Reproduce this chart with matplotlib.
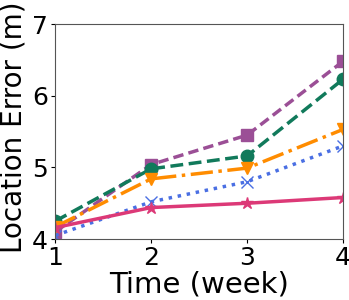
import matplotlib
matplotlib.use('Agg')
import matplotlib.pyplot as plt

# Data
weeks = [1, 2, 3, 4]
purple_sq = [4.10, 5.04, 5.45, 6.48]
green_circ = [4.25, 4.98, 5.16, 6.23]
orange_tri = [4.17, 4.84, 4.99, 5.53]
blue_x = [4.05, 4.52, 4.80, 5.30]
pink_star = [4.16, 4.44, 4.50, 4.58]

fig, ax = plt.subplots(figsize=(3.49, 3.0), dpi=100)

ax.plot(weeks, purple_sq, color='#9b4f96', linestyle=(0, (3, 1.5)), marker='s',
        markersize=8, linewidth=2.5)
ax.plot(weeks, green_circ, color='#117a5b', linestyle='--', marker='o',
        markersize=9, linewidth=2.5)
ax.plot(weeks, orange_tri, color='#ff8c00', linestyle='-.', marker='v',
        markersize=9, linewidth=2.5)
ax.plot(weeks, blue_x, color='#4a6fe3', linestyle=':', marker='x',
        markersize=9, linewidth=2.5)
ax.plot(weeks, pink_star, color='#dc3977', linestyle='-', marker='*',
        markersize=9, linewidth=2.5)

ax.set_xlim(1, 4)
ax.set_ylim(4, 7)
ax.set_xticks([1, 2, 3, 4])
ax.set_yticks([4, 5, 6, 7])
ax.tick_params(labelsize=18, length=3, pad=2)
ax.set_xlabel('Time (week)', fontsize=21, labelpad=0)
ax.set_ylabel('Location Error (m)', fontsize=20, labelpad=3.5, y=0.52)
for s in ax.spines.values():
    s.set_color('#555555')

fig.subplots_adjust(left=0.158, right=0.983, top=0.92, bottom=0.203)
fig.savefig('out.png', dpi=100)
